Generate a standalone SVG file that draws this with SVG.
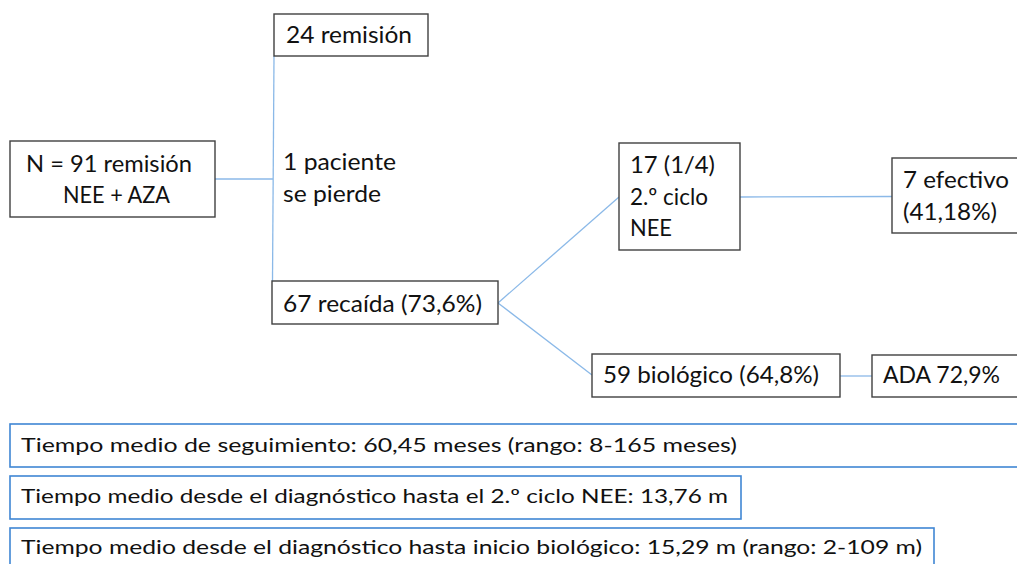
<svg xmlns="http://www.w3.org/2000/svg" width="1017" height="564" viewBox="0 0 1017 564">
<style>
.box{fill:#fff;stroke:#404040;stroke-width:1.4}
.info{fill:#fff;stroke:#3f86d4;stroke-width:1.6}
.t{font-family:Lato,"Open Sans","Liberation Sans",sans-serif;font-size:23px;fill:#111}
.s{font-family:Lato,"Open Sans","Liberation Sans",sans-serif;font-size:19.5px;fill:#111}
.c{stroke:#8bb9e8;stroke-width:1.3;fill:none}
</style>
<rect width="1017" height="564" fill="#fff"/>
<g id="connectors">
<line class="c" x1="215" y1="179" x2="273" y2="179"/>
<line class="c" x1="274" y1="56" x2="272.5" y2="281"/>
<line class="c" x1="498" y1="303" x2="619" y2="197"/>
<line class="c" x1="498" y1="303" x2="592" y2="375"/>
<line class="c" x1="740" y1="197" x2="892" y2="196.5"/>
<line class="c" x1="840" y1="376" x2="872" y2="376"/>
<text class="t" x="283" y="170" textLength="113" lengthAdjust="spacingAndGlyphs">1 paciente</text>
<text class="t" x="283" y="202" textLength="98" lengthAdjust="spacingAndGlyphs">se pierde</text>
</g>
<g id="n24">
<rect class="box" x="274" y="14" width="154" height="42"/>
<text class="t" x="286" y="43" textLength="126" lengthAdjust="spacingAndGlyphs">24 remisión</text>
</g>
<g id="n91">
<rect class="box" x="10" y="141" width="205" height="76"/>
<text class="t" x="26" y="172" textLength="166" lengthAdjust="spacingAndGlyphs">N = 91 remisión</text>
<text class="t" x="63" y="203" textLength="107" lengthAdjust="spacingAndGlyphs">NEE + AZA</text>
</g>
<g id="n67">
<rect class="box" x="272" y="281" width="226" height="43"/>
<text class="t" x="283" y="312" textLength="199" lengthAdjust="spacingAndGlyphs">67 recaída (73,6%)</text>
</g>
<g id="n17">
<rect class="box" x="619" y="143" width="121" height="107"/>
<text class="t" x="630" y="173" textLength="85" lengthAdjust="spacingAndGlyphs">17 (1/4)</text>
<text class="t" x="630" y="205" textLength="78" lengthAdjust="spacingAndGlyphs">2.º ciclo</text>
<text class="t" x="630" y="236" textLength="42" lengthAdjust="spacingAndGlyphs">NEE</text>
</g>
<g id="n7">
<rect class="box" x="892" y="158" width="140" height="75"/>
<text class="t" x="903" y="188" textLength="106" lengthAdjust="spacingAndGlyphs">7 efectivo</text>
<text class="t" x="903" y="220" textLength="94" lengthAdjust="spacingAndGlyphs">(41,18%)</text>
</g>
<g id="n59">
<rect class="box" x="592" y="354" width="248" height="43"/>
<text class="t" x="603" y="383" textLength="216" lengthAdjust="spacingAndGlyphs">59 biológico (64,8%)</text>
</g>
<g id="nADA">
<rect class="box" x="872" y="355" width="160" height="42"/>
<text class="t" x="883" y="383" textLength="117" lengthAdjust="spacingAndGlyphs">ADA 72,9%</text>
</g>
<g id="info1">
<rect class="info" x="10" y="424" width="1020" height="43"/>
<text class="s" x="21" y="452" textLength="716" lengthAdjust="spacingAndGlyphs">Tiempo medio de seguimiento: 60,45 meses (rango: 8-165 meses)</text>
</g>
<g id="info2">
<rect class="info" x="10" y="476" width="731" height="43"/>
<text class="s" x="21" y="503" textLength="707" lengthAdjust="spacingAndGlyphs">Tiempo medio desde el diagnóstico hasta el 2.º ciclo NEE: 13,76 m</text>
</g>
<g id="info3">
<rect class="info" x="10" y="528" width="924" height="45"/>
<text class="s" x="21" y="554" textLength="901" lengthAdjust="spacingAndGlyphs">Tiempo medio desde el diagnóstico hasta inicio biológico: 15,29 m (rango: 2-109 m)</text>
</g>
</svg>
